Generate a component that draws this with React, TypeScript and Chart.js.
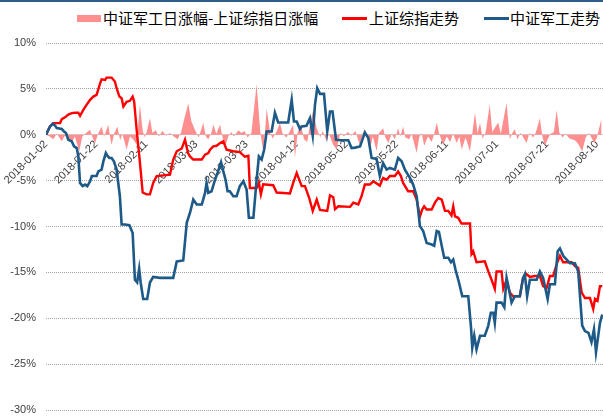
import React, { useEffect, useRef } from "react";
import { Chart, registerables } from "chart.js";

Chart.register(...registerables);

// x values: calendar days since 2018-01-02
const startDate = [2018, 0, 2];
const xTickDays = [0, 20, 40, 60, 80, 100, 120, 140, 160, 180, 200, 220];
const yTicks = [-30, -25, -20, -15, -10, -5, 0, 5, 10];

const seriesNames = ["中证军工日涨幅-上证综指日涨幅", "上证综指走势", "中证军工走势"];

// 上证综指走势 (%)
const redDays = [0, 1.6, 2.9, 5.6, 6.3, 7.6, 8.9, 10.3, 11.6, 12.9, 13.6, 14.9, 16.2, 17.6, 18.9, 20.2, 21.6, 22.2, 23.6, 24.2, 26.2, 27.5, 28.2, 29.3, 30.2, 30.9, 32.2, 33.5, 34.6, 35.2, 36.2, 37.5, 38.6, 40.2, 41.5, 42.8, 44.2, 49.5, 50.8, 52.2, 54.2, 55.5, 56.7, 57.5, 58.8, 62.2, 63.5, 64.8, 65.5, 66.8, 68.1, 69.5, 70.8, 72.1, 74.8, 77.4, 79.4, 80.8, 81.4, 84.1, 85.0, 85.8, 86.7, 90.7, 92.1, 97.4, 98.7, 100.1, 102.1, 103.4, 105.1, 106.5, 108.1, 109.4, 112.3, 113.4, 114.7, 115.4, 116.7, 121.4, 122.7, 124.7, 126.0, 127.3, 129.3, 130.7, 133.3, 134.6, 136.0, 137.3, 139.3, 140.6, 141.7, 142.6, 144.6, 146.6, 148.0, 149.3, 150.2, 151.0, 152.0, 154.0, 155.3, 156.6, 158.0, 159.3, 160.6, 161.9, 162.6, 163.3, 164.6, 165.9, 169.3, 169.9, 170.6, 171.9, 175.2, 176.6, 177.9, 179.2, 179.9, 181.9, 182.6, 183.9, 185.2, 186.5, 189.2, 190.5, 191.9, 193.2, 195.2, 197.2, 198.5, 199.9, 201.2, 202.5, 203.9, 205.2, 206.5, 209.9, 211.2, 212.5, 213.9, 215.2, 217.2, 218.5, 219.2, 220.2, 221.2, 222.1];
const redVals = [0, 0.9, 1.27, 1.27, 1.7, 1.9, 2.2, 2.36, 2.4, 2.4, 2.07, 2.7, 3.26, 3.8, 4.16, 4.35, 5.6, 6.05, 5.98, 6.23, 6.23, 5.8, 5.07, 4.16, 3.99, 3.08, 3.6, 3.7, 4.16, 3.62, 0.54, -3.0, -6.3, -6.5, -6.5, -5.25, -4.5, -4.35, -2.7, -1.8, -1.5, -0.54, -2.0, -2.36, -2.7, -2.7, -2.17, -2.0, -1.63, -1.27, -1.2, -0.9, -0.72, -1.63, -1.8, -1.9, -2.4, -2.3, -5.8, -5.8, -5.25, -6.5, -5.4, -5.5, -6.3, -6.4, -5.25, -4.16, -5.6, -5.6, -6.9, -8.3, -7.07, -8.2, -8.3, -6.6, -6.8, -8.1, -7.8, -7.86, -7.4, -7.6, -6.7, -5.43, -5.43, -5.07, -5.54, -4.7, -4.9, -4.5, -4.5, -4.0, -4.5, -5.25, -6.16, -6.16, -7.07, -8.9, -8.15, -7.8, -8.15, -8.15, -7.4, -6.9, -7.07, -8.3, -8.3, -8.8, -7.8, -8.9, -9.05, -9.67, -9.67, -13.0, -12.7, -13.9, -13.8, -14.9, -15.8, -16.8, -14.9, -14.9, -16.8, -15.8, -17.2, -17.6, -17.6, -15.6, -15.2, -15.5, -15.4, -15.4, -16.5, -16.7, -15.4, -15.4, -14.1, -13.2, -13.9, -13.9, -14.3, -14.5, -17.2, -17.8, -17.8, -19.0, -17.9, -18.1, -16.5, -16.5];

// 中证军工走势 (%)
const blueDays = [0, 1.6, 2.7, 3.6, 4.3, 6.3, 7.2, 8.0, 8.9, 10.3, 11.2, 12.3, 12.9, 13.6, 14.6, 15.6, 16.5, 17.6, 18.3, 20.2, 20.9, 22.2, 22.9, 23.9, 24.5, 25.3, 26.2, 27.1, 28.2, 29.5, 30.2, 31.5, 33.3, 34.6, 35.5, 36.4, 37.2, 37.8, 38.8, 40.4, 41.5, 42.8, 45.5, 50.8, 52.2, 54.8, 56.2, 57.5, 58.8, 60.2, 62.2, 63.5, 64.1, 64.8, 66.1, 67.5, 68.5, 69.9, 70.8, 71.7, 72.5, 73.4, 74.8, 76.1, 77.4, 78.8, 80.1, 81.0, 82.8, 84.1, 85.0, 86.1, 87.1, 88.1, 90.1, 91.4, 92.7, 96.7, 98.1, 99.0, 100.1, 101.4, 102.1, 104.0, 105.4, 106.5, 107.4, 108.3, 109.4, 111.0, 112.3, 113.4, 114.4, 115.8, 118.0, 120.7, 122.0, 123.4, 125.4, 127.3, 128.7, 130.0, 132.0, 133.3, 134.6, 136.0, 137.3, 139.3, 140.6, 142.0, 143.3, 145.3, 146.6, 148.0, 149.3, 150.6, 152.0, 154.0, 155.0, 156.0, 156.9, 158.0, 159.0, 160.6, 161.7, 162.6, 163.5, 164.9, 166.2, 168.6, 169.7, 170.2, 171.0, 171.9, 173.3, 175.2, 176.6, 177.6, 178.6, 179.2, 179.9, 181.9, 183.0, 183.9, 184.8, 185.9, 187.2, 189.2, 190.5, 191.2, 192.1, 193.2, 195.9, 197.2, 198.5, 200.3, 201.2, 203.2, 204.3, 205.2, 206.5, 209.2, 211.2, 212.5, 213.6, 214.1, 215.2, 216.6, 217.8, 218.8, 219.6, 220.5, 221.2, 222.1];
const blueVals = [0, 0.9, 1.2, 1.0, 0.73, 0.62, 0.36, 0.18, -0.54, -0.72, -1.27, -1.45, -2.36, -5.25, -5.6, -5.43, -5.6, -5.07, -4.5, -4.5, -3.99, -3.8, -2.9, -1.99, -2.28, -2.53, -2.53, -2.9, -3.8, -6.7, -9.78, -9.78, -9.86, -10.7, -15.8, -16.1, -14.6, -16.1, -17.9, -17.9, -16.1, -15.5, -15.6, -15.6, -13.8, -13.7, -9.6, -8.5, -7.07, -7.6, -7.6, -6.34, -5.25, -6.34, -6.16, -4.9, -4.16, -3.0, -3.99, -4.9, -6.16, -6.16, -6.7, -6.7, -5.6, -5.07, -5.98, -9.05, -9.05, -4.9, -2.36, -2.7, -1.63, 0.36, 0.36, 2.4, 1.34, 1.34, 3.8, 1.45, 1.45, 0.62, 0.9, 0.98, 1.8, -0.1, 3.26, 5.07, 4.46, 4.46, 0.36, 2.54, 2.54, -0.54, -0.6, -0.6, -1.45, -1.4, -1.27, 0.25, -0.36, -2.53, -2.64, -4.5, -3.08, -3.8, -3.62, -3.8, -2.53, -2.9, -3.8, -4.7, -5.43, -6.7, -9.96, -10.5, -11.8, -11.96, -12.1, -10.5, -10.6, -12.1, -13.4, -13.4, -13.9, -13.6, -14.7, -16.1, -17.6, -17.6, -21.0, -23.2, -21.9, -23.4, -21.9, -21.9, -20.8, -19.4, -19.4, -20.5, -18.3, -18.3, -18.8, -15.6, -16.8, -18.3, -17.6, -17.6, -15.6, -15.2, -17.6, -15.8, -15.8, -14.9, -15.6, -17.9, -16.3, -16.3, -12.7, -12.4, -13.2, -14.0, -14.0, -14.9, -19.0, -20.8, -21.4, -21.6, -22.6, -21.2, -23.7, -21.9, -20.5, -19.6];

// 中证军工日涨幅-上证综指日涨幅 (%)
const diffDays = [0, 1.5, 2.9, 4.3, 5.0, 6.3, 7.5, 9.0, 10.3, 11.5, 13.3, 14.5, 16.0, 17.6, 18.6, 19.6, 20.8, 22.2, 23.2, 24.9, 25.6, 26.2, 27.3, 28.5, 29.6, 30.5, 32.2, 33.5, 34.8, 36.2, 37.5, 38.6, 39.5, 40.2, 41.5, 42.5, 43.8, 45.0, 46.5, 48.0, 49.5, 51.0, 52.6, 54.0, 55.0, 56.8, 58.0, 59.5, 61.0, 62.8, 63.8, 64.8, 66.0, 66.8, 68.0, 69.5, 70.5, 71.5, 72.8, 74.0, 75.0, 76.8, 78.0, 79.3, 80.5, 82.0, 84.1, 85.5, 86.7, 87.5, 88.1, 89.5, 90.5, 92.0, 93.4, 94.5, 96.0, 97.0, 98.7, 99.4, 100.5, 101.8, 103.0, 104.3, 105.4, 106.7, 108.0, 109.5, 110.5, 112.0, 113.0, 114.5, 116.0, 117.5, 119.0, 120.5, 122.0, 123.5, 125.3, 126.5, 127.5, 129.3, 130.5, 132.0, 133.0, 134.6, 135.5, 136.7, 138.0, 139.3, 140.6, 141.5, 142.6, 143.5, 145.0, 146.0, 148.0, 149.0, 150.0, 151.0, 152.5, 154.0, 155.0, 156.0, 157.0, 158.6, 160.0, 161.4, 162.5, 164.0, 165.0, 166.0, 167.5, 169.3, 170.3, 171.3, 172.3, 173.3, 174.3, 175.5, 177.2, 178.2, 179.5, 180.6, 181.6, 183.9, 185.2, 186.2, 187.2, 188.2, 189.5, 191.9, 193.0, 194.5, 195.5, 197.2, 198.2, 199.2, 200.3, 201.5, 202.8, 203.9, 205.0, 206.3, 207.5, 209.0, 211.2, 212.5, 214.1, 215.5, 216.8, 218.9, 220.0, 221.8];
const diffVals = [0, -0.2, -0.5, 0.1, -0.2, -0.7, -0.1, -0.3, -0.9, -0.2, -1.8, -0.2, 0.2, 0.55, -0.3, -0.9, 0.1, 0.9, -0.2, 1.1, -0.3, -1.1, 0.2, 0.9, -0.6, 0.1, -1.6, -0.2, -0.5, -1.1, 3.3, 0.4, -0.3, 0.3, 1.8, 0.2, 0.5, -0.2, 0.4, -0.1, 0.2, -0.2, -0.5, 0.3, 1.5, 3.4, 1.5, 0.5, -0.3, 1.3, -0.2, -0.5, 0.2, 1.1, 0.1, 1.1, -0.3, -1.3, -0.2, 0.3, -0.2, 0.5, 0.2, 0.4, -0.3, 0.2, 5.5, 0.5, -1.8, 0.5, 2.9, 0.2, -0.4, 0.3, 1.27, 0.1, -0.3, 0.2, 1.1, -2.5, 0.3, 1.1, -0.5, -0.8, 1.1, 2.7, 0.8, -0.3, 0.4, -0.7, 0.1, -1.0, -1.6, 0.2, -0.2, 0.3, -0.1, 0.4, -1.1, 0.2, 0.5, -1.6, -0.2, -1.8, 0.2, 0.7, -0.3, -0.9, 0.1, -0.5, 0.7, -0.2, 0.9, -0.3, -0.5, 0.1, -2.0, -0.3, 0.2, -1.2, -0.2, -0.8, 0.1, 1.3, 0.1, -1.1, -0.2, -0.8, 0.1, -0.9, -0.2, -1.6, -0.3, -1.8, 0.3, 2.4, 0.2, 1.3, -0.4, 0.2, 3.3, 0.3, 0.9, 1.3, 0.1, 3.5, -0.5, 0.2, 0.6, -0.5, 0.2, -0.9, 0.2, -0.3, 0.2, 1.8, -0.2, -1.2, -0.5, 0.1, 0.3, 2.7, 0.2, -0.3, 0.1, -0.4, -0.6, -1.0, -1.8, -0.3, 0.2, -0.9, -0.3, 1.8];

const pink = "#FF8E8E";
const red = "#FF0000";
const blue = "#1D5A87";

function pts(days: number[], vals: number[]) {
  return days.map((d, i) => ({ x: d, y: vals[i] }));
}

function dayLabel(v: number) {
  const d = new Date(startDate[0], startDate[1], startDate[2] + v);
  const mm = String(d.getMonth() + 1).padStart(2, "0");
  const dd = String(d.getDate()).padStart(2, "0");
  return `${d.getFullYear()}-${mm}-${dd}`;
}

export default function App() {
  const ref = useRef<HTMLCanvasElement | null>(null);

  useEffect(() => {
    const canvas = ref.current;
    if (!canvas) return;
    const chart = new Chart(canvas, {
      type: "line",
      data: {
        datasets: [
          {
            label: seriesNames[2],
            data: pts(blueDays, blueVals),
            borderColor: blue,
            borderWidth: 2.6,
            pointRadius: 0,
            fill: false,
            order: 1,
          },
          {
            label: seriesNames[1],
            data: pts(redDays, redVals),
            borderColor: red,
            borderWidth: 2.4,
            pointRadius: 0,
            fill: false,
            order: 2,
          },
          {
            label: seriesNames[0],
            data: pts(diffDays, diffVals),
            borderColor: pink,
            backgroundColor: pink,
            borderWidth: 0,
            pointRadius: 0,
            fill: "origin",
            order: 3,
          },
        ],
      },
      options: {
        responsive: false,
        animation: false,
        devicePixelRatio: 1,
        layout: { padding: { top: 43, bottom: 7, left: 0, right: 0 } },
        plugins: { legend: { display: false }, tooltip: { enabled: false } },
        scales: {
          x: {
            type: "linear",
            position: { y: 0 } as any,
            min: 0,
            max: 222.4,
            afterBuildTicks: (scale: any) => {
              scale.ticks = xTickDays.map((v) => ({ value: v }));
            },
            afterFit: (scale: any) => {
              scale.height = 0;
              scale.paddingLeft = 0;
              scale.paddingRight = 0;
            },
            ticks: {
              autoSkip: false,
              minRotation: 45,
              maxRotation: 45,
              padding: 3,
              color: "#404040",
              font: { family: "'Liberation Sans', Arial, sans-serif", size: 11 },
              callback: (v: any) => dayLabel(Number(v)),
            },
            grid: { drawOnChartArea: false, drawTicks: false },
            border: { display: true, color: "#D0D0D0", width: 1 },
          },
          y: {
            min: -30,
            max: 10,
            afterBuildTicks: (scale: any) => {
              scale.ticks = yTicks.map((v) => ({ value: v }));
            },
            afterFit: (scale: any) => {
              scale.width = 46;
              scale.paddingTop = 0;
              scale.paddingBottom = 0;
            },
            ticks: {
              padding: 10,
              color: "#404040",
              font: { family: "'Liberation Sans', Arial, sans-serif", size: 11 },
              callback: (v: any) => `${v}%`,
            },
            grid: {
              drawTicks: false,
              color: (ctx: any) => (ctx.tick && ctx.tick.value === 0 ? "rgba(0,0,0,0)" : "#A0A0A0"),
              lineWidth: 1,
            },
            border: { display: false, dash: [1, 1] },
          },
        },
      },
    });
    return () => chart.destroy();
  }, []);

  const legendText: React.CSSProperties = {
    position: "absolute",
    top: 8,
    fontFamily: "'Noto Sans CJK SC', sans-serif",
    fontSize: 15,
    lineHeight: "20px",
    color: "#000",
    whiteSpace: "nowrap",
  };

  return (
    <div style={{ position: "fixed", left: 0, top: 0, width: 603, height: 417, background: "#fff" }}>
      <div style={{ position: "absolute", left: 0, top: 0, width: 603, height: 2, background: "#2F5D8A" }} />
      <div style={{ position: "absolute", left: 77, top: 15, width: 24, height: 7, background: pink }} />
      <div style={{ ...legendText, left: 103 }}>{seriesNames[0]}</div>
      <div style={{ position: "absolute", left: 342, top: 17, width: 25, height: 3, background: red }} />
      <div style={{ ...legendText, left: 369 }}>{seriesNames[1]}</div>
      <div style={{ position: "absolute", left: 484, top: 17, width: 25, height: 3, background: blue }} />
      <div style={{ ...legendText, left: 510 }}>{seriesNames[2]}</div>
      <canvas ref={ref} width={603} height={417} style={{ position: "absolute", left: 0, top: 0, width: 603, height: 417 }} />
    </div>
  );
}
